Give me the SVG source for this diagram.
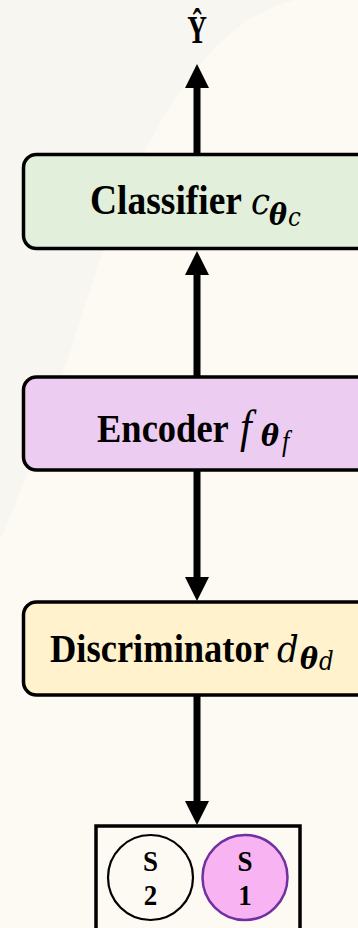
<svg xmlns="http://www.w3.org/2000/svg" width="358" height="928" viewBox="0 0 358 928">
  <style>
    .box { stroke: #000; stroke-width: 3.5; }
    .lbl { font-family: "Liberation Serif", "Times New Roman", serif; font-weight: bold; font-size: 36.5px; fill: #000; }
    .mi { font-family: "DejaVu Serif", serif; font-style: italic; font-weight: normal; font-size: 34px; }
    .mf { font-family: "Liberation Serif", "Times New Roman", serif; font-style: italic; font-weight: normal; }
    .mb { font-family: "DejaVu Serif", serif; font-style: italic; font-weight: bold; font-size: 27px; }
    .ms { font-family: "DejaVu Serif", serif; font-style: italic; font-weight: normal; font-size: 23px; }
    .conn { stroke: #000; stroke-width: 7; fill: none; marker-end: url(#head); }
    .sl { font-family: "Liberation Serif", "Times New Roman", serif; font-weight: bold; font-size: 27px; text-anchor: middle; fill: #000; }
  </style>
  <defs>
    <marker id="head" viewBox="0 0 24 24" markerWidth="24" markerHeight="24" refX="0" refY="12" orient="auto" markerUnits="userSpaceOnUse">
      <path d="M0,0 L24,12 L0,24 Z" fill="#000"/>
    </marker>
  </defs>

  <!-- page background with the soft sweep on the left -->
  <rect x="0" y="0" width="358" height="928" fill="#fdfaf4"/>
  <path d="M0,0 L295,0 C210,20 150,120 100,260 C70,350 40,450 0,540 Z" fill="#f8f6f1"/>

  <!-- output label -->
  <g id="output">
    <g transform="translate(197,43) scale(0.8,1.15)">
      <text class="sl" x="0" y="0" style="font-size:34px">Ŷ</text>
    </g>
  </g>

  <g id="classifier">
    <rect class="box" x="23.5" y="154.5" width="350" height="94" rx="13" fill="#e2efda"/>
    <g transform="translate(0,214) scale(1,1.12)">
      <text class="lbl" x="90" y="0" style="font-size:37.5px">Classifier<tspan class="mi" x="251">c</tspan><tspan class="mb" x="269" y="10">θ</tspan><tspan class="ms" x="288" y="11">c</tspan></text>
    </g>
  </g>

  <g id="encoder">
    <rect class="box" x="23.5" y="377" width="350" height="93" rx="13" fill="#ecccf1"/>
    <g transform="translate(0,442) scale(1,1.12)">
      <text class="lbl" x="97" y="0">Encoder<tspan class="mf" x="240" style="font-size:42px">f</tspan><tspan class="mb" x="261" y="4">θ</tspan><tspan class="mf" x="282" y="8" style="font-size:26px">f</tspan></text>
    </g>
  </g>

  <g id="discriminator">
    <rect class="box" x="23.5" y="602" width="350" height="93" rx="13" fill="#fff2cc"/>
    <g transform="translate(0,662) scale(1,1.12)">
      <text class="lbl" x="50" y="0">Discriminator<tspan class="mi" x="277">d</tspan><tspan class="mb" x="300" y="6">θ</tspan><tspan class="ms" x="319" y="7">d</tspan></text>
    </g>
  </g>

  <g id="domains">
    <rect class="box" x="96" y="826" width="204" height="120" fill="#fdfaf4"/>
    <g id="s2">
      <circle cx="150.5" cy="877.5" r="42.5" fill="#fdfaf4" stroke="#000" stroke-width="2.2"/>
      <g transform="translate(150.5,871) scale(1,1.12)"><text class="sl" x="0" y="0">S</text></g>
      <g transform="translate(150.5,905) scale(1,1.12)"><text class="sl" x="0" y="0">2</text></g>
    </g>
    <g id="s1">
      <circle cx="245" cy="877.5" r="42.5" fill="#f7b3f2" stroke="#7030a0" stroke-width="2.5"/>
      <g transform="translate(245,871) scale(1,1.12)"><text class="sl" x="0" y="0">S</text></g>
      <g transform="translate(245,905) scale(1,1.12)"><text class="sl" x="0" y="0">1</text></g>
    </g>
  </g>

  <g id="connectors">
    <line class="conn" x1="197" y1="153" x2="197" y2="88"/>
    <line class="conn" x1="197" y1="376" x2="197" y2="275"/>
    <line class="conn" x1="197" y1="471" x2="197" y2="577"/>
    <line class="conn" x1="197" y1="696" x2="197" y2="801"/>
  </g>
</svg>
